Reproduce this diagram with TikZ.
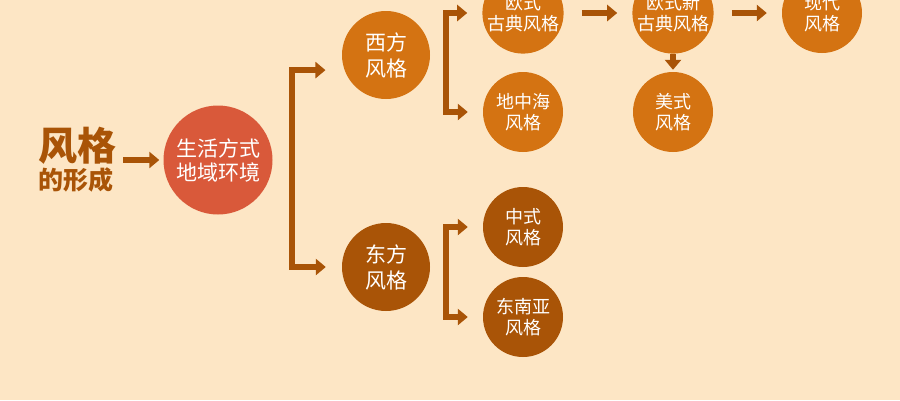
\documentclass[tikz,border=0pt]{standalone}
\usepackage{fontspec}
\newfontfamily\cjk{Noto Sans CJK SC}
\usepackage{xcolor}
\usepackage{tikz}
\usetikzlibrary{positioning, arrows.meta}
\definecolor{bgpeach}{RGB}{253,230,197}
\definecolor{stylebrown}{RGB}{169,84,7}
\definecolor{styleorange}{RGB}{212,115,18}
\definecolor{stylered}{RGB}{217,89,58}

\begin{document}
\begin{tikzpicture}[
  x=1pt, y=-1pt,
  bub/.style={circle, fill=styleorange, text=white, inner sep=0pt,
              minimum size=80pt, align=center, font=\cjk\fontsize{18}{21}\selectfont},
  mid/.style={bub, minimum size=88pt, font=\cjk\fontsize{21}{26}\selectfont},
  ttl/.style={text=stylebrown, inner sep=0pt},
  arr/.style={draw=stylebrown, line width=6pt,
              -{Triangle[length=10pt, width=16pt]}}
]
\fill[bgpeach] (0,0) rectangle (900,400);
\clip (0,0) rectangle (900,400);
% title and root
\node[ttl, font=\cjk\bfseries\fontsize{39}{39}\selectfont] (title) at (77,146) {风格};
\node[ttl, font=\cjk\bfseries\fontsize{25}{25}\selectfont] (form) at (76,180) {的形成};
\node[mid, minimum size=109pt, fill=stylered, font=\cjk\fontsize{21}{24}\selectfont]
  (life) at (218,160) {生活方式\\地域环境};
% second level
\node[mid] (west) at (386,55) {西方\\风格};
\node[mid, fill=stylebrown] (east) at (386,267) {东方\\风格};
% western styles
\node[bub] (ogu) at (523,13)  {欧式\\古典风格};
\node[bub] (dzh) at (523,112) {地中海\\风格};
\node[bub] (xgu) at (673,13)  {欧式新\\古典风格};
\node[bub] (ms)  at (673,112) {美式\\风格};
\node[bub] (xd)  at (822,13)  {现代\\风格};
% eastern styles
\node[bub, fill=stylebrown] (zs)  at (523,227) {中式\\风格};
\node[bub, fill=stylebrown] (dny) at (523,317) {东南亚\\风格};
% brackets
\coordinate (sp1) at (292,170);
\coordinate (sp2) at (446,62);
\coordinate (sp3) at (446,272);
\draw[arr, shorten <=7pt, shorten >=4pt] (title.east |- life.west) -- (life.west);
\draw[arr, shorten >=19pt] (sp1) |- (west.200);
\draw[arr, shorten >=16pt] (sp1) |- (east.west);
\draw[arr, shorten >=15pt] (sp2) |- (ogu.west);
\draw[arr, shorten >=15pt] (sp2) |- (dzh.west);
\draw[arr, shorten >=15pt] (sp3) |- (zs.west);
\draw[arr, shorten >=15pt] (sp3) |- (dny.west);
\draw[arr, shorten <=18pt, shorten >=15pt] (ogu.east) -- (xgu.west);
\draw[arr, shorten <=18pt, shorten >=15pt] (xgu.east) -- (xd.west);
\draw[arr, shorten >=2pt] (xgu.south) -- (ms.north);
\end{tikzpicture}
\end{document}
